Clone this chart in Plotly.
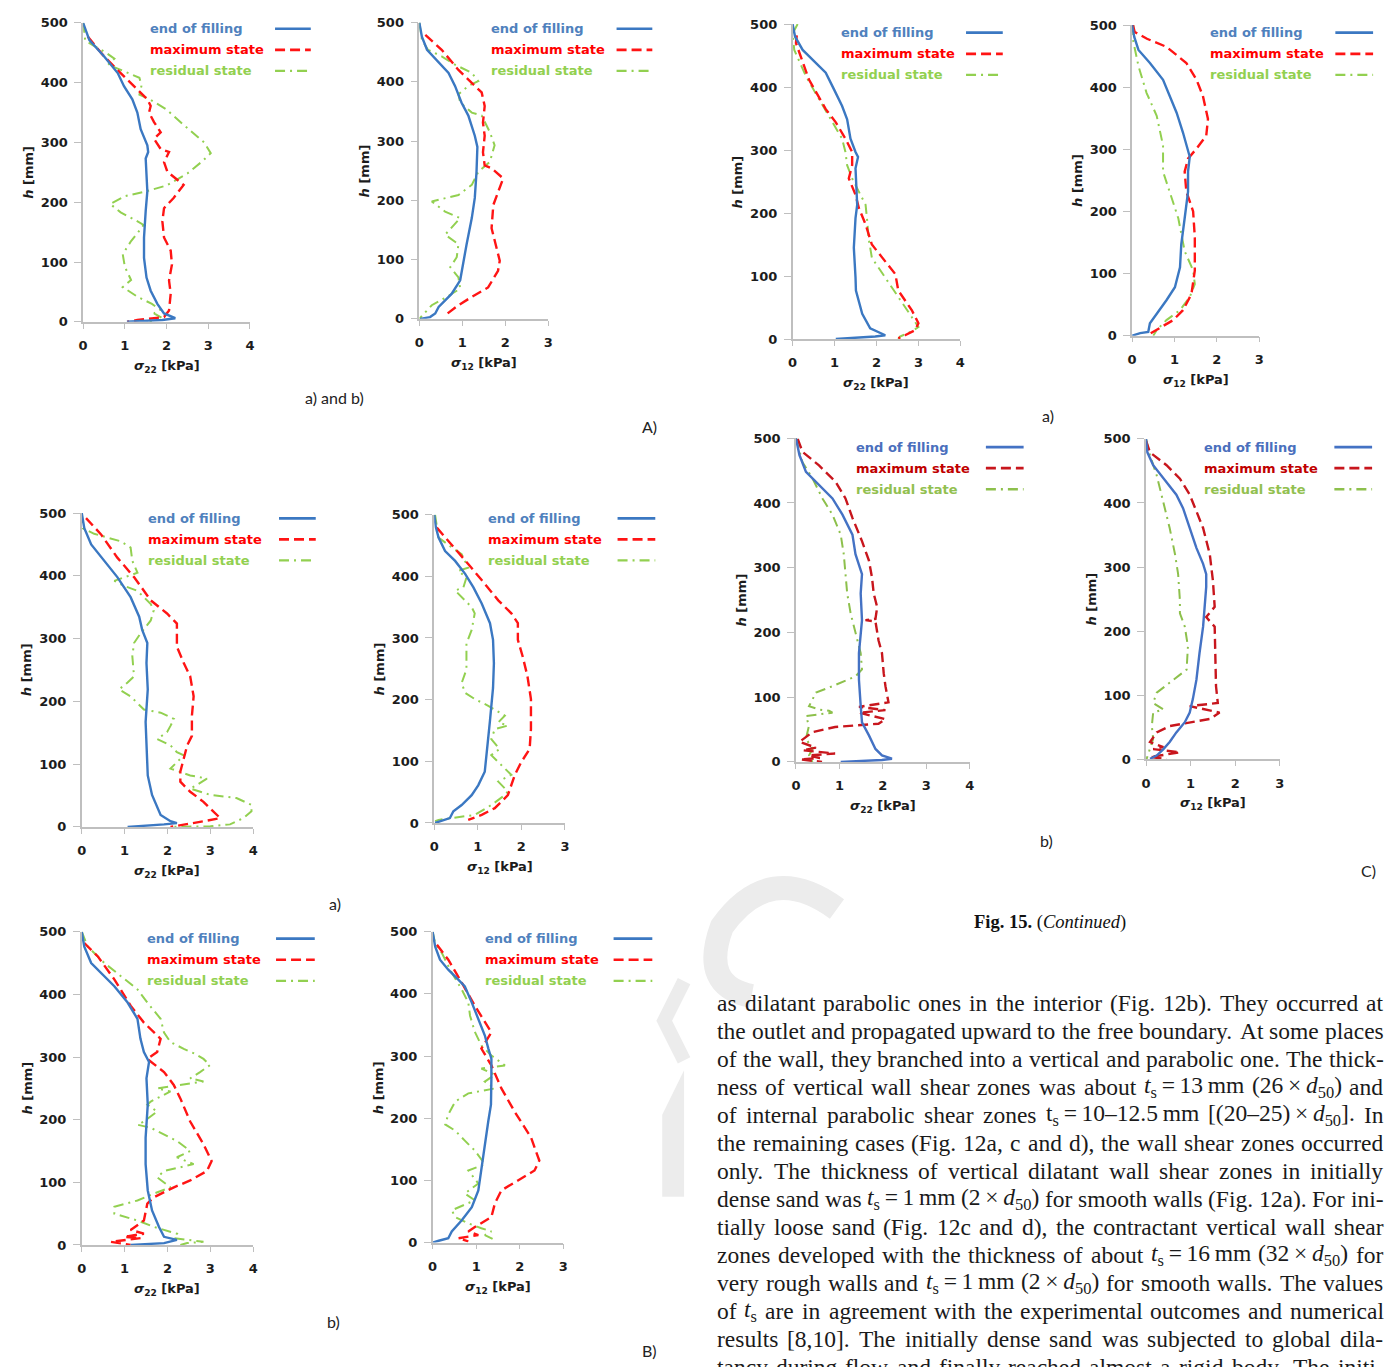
import re
import plotly.graph_objects as go

W, H = 1390, 1367

# ---------------- stress profiles: sigma [kPa] vs height h [mm] ----------------
# A) sigma22
A22_fill_h = [500, 471, 444, 416, 394, 372, 350, 322, 295, 284, 273, 251, 218, 185, 141, 107, 74, 52, 30, 14, 6, 3, 0]
A22_fill_s = [0, 0.15, 0.5, 0.83, 0.98, 1.18, 1.3, 1.38, 1.54, 1.56, 1.5, 1.52, 1.54, 1.5, 1.46, 1.46, 1.52, 1.62, 1.78, 1.94, 2.21, 1.9, 1.05]
A22_max_h = [477, 444, 416, 389, 372, 361, 350, 334, 317, 306, 289, 284, 267, 251, 229, 207, 190, 168, 141, 119, 96, 69, 47, 19, 8, 3, 0]
A22_max_s = [0.11, 0.5, 0.9, 1.3, 1.54, 1.62, 1.58, 1.7, 1.86, 1.7, 1.86, 2.06, 1.94, 2.02, 2.41, 2.17, 1.94, 1.9, 1.94, 2.1, 2.13, 2.06, 2.1, 2.06, 1.94, 1.3, 1.06]
A22_res_h = [500, 470, 462, 450, 440, 430, 420, 408, 395, 380, 372, 355, 330, 300, 282, 268, 248, 228, 218, 210, 197, 183, 172, 162, 148, 135, 113, 92, 70, 58, 42, 30, 20, 14, 6, 0]
A22_res_s = [0, 0.05, 0.25, 0.55, 0.75, 0.6, 0.95, 1.35, 1.4, 1.35, 1.6, 2.0, 2.4, 2.9, 3.06, 2.85, 2.5, 2.0, 1.5, 1.0, 0.65, 0.9, 1.2, 1.45, 1.3, 1.15, 0.95, 1.0, 1.15, 0.95, 1.3, 1.65, 1.85, 1.7, 1.9, 1.6]

# A) sigma12
A12_fill_h = [500, 476, 454, 432, 415, 393, 365, 343, 309, 290, 248, 204, 170, 126, 92, 65, 42, 20, 9, 3, 0]
A12_fill_s = [0, 0.06, 0.18, 0.45, 0.68, 0.83, 0.98, 1.14, 1.29, 1.35, 1.33, 1.29, 1.22, 1.1, 1.02, 0.95, 0.75, 0.45, 0.37, 0.25, 0.02]
A12_max_h = [479, 454, 420, 398, 382, 359, 331, 309, 281, 259, 254, 237, 215, 192, 153, 131, 98, 81, 53, 37, 23, 6]
A12_max_s = [0.14, 0.52, 0.91, 1.22, 1.45, 1.52, 1.48, 1.52, 1.48, 1.52, 1.68, 1.95, 1.83, 1.72, 1.68, 1.75, 1.87, 1.83, 1.6, 1.22, 0.91, 0.6]
A12_res_h = [500, 471, 454, 443, 430, 415, 401, 393, 379, 365, 348, 343, 315, 293, 265, 248, 226, 209, 198, 181, 170, 153, 142, 126, 104, 87, 70, 51, 37, 23, 9, 0]
A12_res_s = [0, 0.06, 0.2, 0.52, 0.8, 1.22, 1.37, 1.14, 0.91, 0.95, 1.22, 1.45, 1.64, 1.75, 1.64, 1.37, 1.22, 0.91, 0.29, 0.6, 0.95, 0.75, 0.6, 0.91, 0.87, 0.72, 0.91, 0.95, 0.64, 0.29, 0.1, 0]

# C) a) sigma22
Ca22_fill_h = [500, 480, 459, 438, 423, 396, 370, 349, 318, 297, 289, 271, 250, 213, 192, 145, 98, 77, 40, 17, 6, 4, 0]
Ca22_fill_s = [0, 0.06, 0.24, 0.55, 0.79, 0.99, 1.18, 1.3, 1.38, 1.5, 1.56, 1.5, 1.51, 1.54, 1.5, 1.46, 1.5, 1.51, 1.66, 1.85, 2.21, 1.97, 1.03]
Ca22_max_h = [482, 470, 412, 365, 344, 318, 297, 276, 255, 229, 208, 182, 150, 124, 103, 77, 46, 25, 14, 6, 1]
Ca22_max_s = [0.1, 0.08, 0.39, 0.79, 1.03, 1.26, 1.42, 1.42, 1.34, 1.5, 1.58, 1.74, 1.89, 2.21, 2.45, 2.52, 2.84, 3.0, 2.92, 2.68, 2.52]
Ca22_res_h = [500, 485, 459, 417, 381, 318, 297, 276, 255, 234, 213, 187, 161, 129, 98, 66, 35, 19, 12, 4, 0]
Ca22_res_s = [0.12, 0, 0.04, 0.32, 0.63, 1.18, 1.26, 1.3, 1.42, 1.58, 1.74, 1.78, 1.81, 1.89, 2.21, 2.52, 2.84, 3.0, 2.84, 2.56, 2.52]

# C) a) sigma12
Ca12_fill_h = [500, 481, 460, 439, 412, 386, 359, 327, 296, 288, 264, 232, 189, 147, 110, 78, 57, 36, 20, 6, 4, 0]
Ca12_fill_s = [0, 0.05, 0.15, 0.42, 0.73, 0.89, 1.05, 1.2, 1.32, 1.36, 1.32, 1.32, 1.24, 1.16, 1.13, 1.01, 0.81, 0.58, 0.42, 0.38, 0.19, 0]
Ca12_max_h = [500, 489, 478, 465, 439, 412, 386, 349, 322, 301, 285, 264, 232, 200, 158, 105, 67, 41, 25, 9, 0]
Ca12_max_s = [0.02, 0.06, 0.35, 0.81, 1.28, 1.52, 1.67, 1.79, 1.75, 1.52, 1.32, 1.24, 1.28, 1.44, 1.48, 1.48, 1.4, 1.2, 0.97, 0.58, 0.34]
Ca12_res_h = [500, 476, 434, 391, 354, 306, 264, 232, 189, 136, 105, 83, 62, 41, 25, 9, 0]
Ca12_res_s = [0.03, 0.02, 0.15, 0.34, 0.58, 0.73, 0.73, 0.89, 1.09, 1.24, 1.44, 1.48, 1.36, 1.13, 0.81, 0.58, 0.5]

# C) b) sigma22
Cb22_fill_h = [500, 474, 448, 428, 407, 382, 351, 321, 290, 260, 219, 168, 127, 87, 61, 41, 20, 10, 5, 3, 0]
Cb22_fill_s = [0, 0.08, 0.23, 0.53, 0.84, 1.07, 1.3, 1.37, 1.52, 1.49, 1.52, 1.45, 1.45, 1.49, 1.52, 1.68, 1.83, 1.98, 2.21, 1.98, 1.03]
Cb22_max_h = [499, 479, 458, 433, 407, 377, 341, 311, 285, 260, 239, 221, 219, 217, 188, 168, 137, 117, 92, 85, 80, 76, 66, 59, 54, 46, 31, 22, 18, 13, 10, 6, 4, 0]
Cb22_max_s = [0.04, 0.15, 0.53, 0.91, 1.14, 1.3, 1.52, 1.68, 1.75, 1.79, 1.87, 1.83, 1.6, 1.83, 1.9, 1.98, 2.02, 2.06, 2.13, 1.45, 2.06, 1.45, 2.06, 1.9, 0.9, 0.38, 0.08, 0.46, 0.15, 0.9, 0.3, 0.55, 0.1, 0.6]
Cb22_res_h = [500, 463, 438, 407, 382, 351, 321, 290, 260, 229, 199, 168, 143, 132, 117, 107, 86, 81, 79, 76, 71, 56, 36, 20, 10, 0]
Cb22_res_s = [0, 0.15, 0.38, 0.61, 0.84, 1.03, 1.1, 1.14, 1.18, 1.26, 1.37, 1.49, 1.52, 1.37, 0.84, 0.46, 0.3, 0.53, 0.76, 0.84, 0.23, 0.3, 0.23, 0.38, 0.3, 0.38]

# C) b) sigma12
Cb12_fill_h = [500, 479, 459, 433, 413, 392, 361, 330, 305, 289, 269, 238, 207, 166, 124, 94, 73, 58, 42, 27, 16, 6, 1]
Cb12_fill_s = [0, 0.03, 0.16, 0.46, 0.68, 0.83, 0.98, 1.13, 1.28, 1.35, 1.35, 1.31, 1.28, 1.2, 1.13, 1.05, 0.98, 0.87, 0.68, 0.53, 0.39, 0.24, 0.09]
Cb12_max_h = [497, 479, 459, 438, 413, 387, 361, 320, 279, 238, 222, 207, 166, 114, 88, 83, 73, 63, 52, 42, 27, 19, 16, 11, 6, 4, 0]
Cb12_max_s = [0, 0.09, 0.46, 0.76, 0.98, 1.13, 1.28, 1.43, 1.5, 1.54, 1.35, 1.54, 1.56, 1.57, 1.61, 0.98, 1.65, 1.43, 0.53, 0.24, 0.09, 0.39, 0.16, 0.76, 0.31, 0.09, 0.46]
Cb12_res_h = [500, 474, 443, 402, 361, 320, 289, 248, 228, 207, 176, 140, 119, 104, 88, 78, 73, 52, 32, 16, 0]
Cb12_res_s = [0, 0.09, 0.24, 0.39, 0.53, 0.65, 0.72, 0.76, 0.76, 0.87, 0.94, 0.91, 0.53, 0.24, 0.16, 0.39, 0.16, 0.13, 0.16, 0.09, 0.01]

# B) a) sigma22
Ba22_fill_h = [500, 476, 450, 424, 398, 366, 335, 314, 293, 261, 219, 167, 124, 82, 51, 19, 9, 6, 4, 0]
Ba22_fill_s = [0, 0.06, 0.22, 0.53, 0.83, 1.14, 1.34, 1.41, 1.53, 1.51, 1.54, 1.49, 1.51, 1.54, 1.64, 1.84, 2.07, 2.22, 1.92, 1.07]
Ba22_max_h = [492, 466, 429, 398, 361, 340, 324, 303, 287, 261, 240, 208, 177, 145, 130, 109, 88, 72, 56, 40, 25, 14, 9, 4, 0]
Ba22_max_s = [0.1, 0.45, 0.83, 1.22, 1.61, 1.99, 2.22, 2.22, 2.22, 2.38, 2.53, 2.61, 2.57, 2.57, 2.46, 2.38, 2.3, 2.3, 2.53, 2.84, 3.07, 3.23, 2.84, 2.46, 2.07]
Ba22_res_h = [500, 476, 467, 455, 445, 424, 405, 392, 384, 376, 366, 355, 345, 329, 308, 293, 272, 240, 230, 219, 208, 198, 187, 182, 172, 161, 151, 140, 130, 119, 114, 103, 93, 82, 77, 67, 61, 51, 46, 35, 25, 14, 4, 1, 0]
Ba22_res_s = [0, 0.02, 0.29, 0.91, 1.14, 1.18, 1.3, 0.76, 0.99, 1.3, 1.45, 1.61, 1.68, 1.61, 1.37, 1.22, 1.18, 1.22, 1.07, 0.87, 1.14, 1.3, 1.45, 1.84, 2.15, 2.07, 1.99, 1.76, 2.07, 2.22, 2.38, 2.22, 2.07, 2.53, 2.92, 2.69, 2.53, 3.0, 3.61, 3.96, 3.96, 3.77, 3.46, 3.0, 2.07]

# B) a) sigma12
Ba12_fill_h = [500, 479, 463, 441, 425, 404, 382, 356, 324, 297, 259, 219, 166, 123, 83, 61, 45, 29, 19, 8, 3, 0]
Ba12_fill_s = [0, 0.04, 0.1, 0.25, 0.48, 0.71, 0.9, 1.09, 1.28, 1.35, 1.37, 1.35, 1.28, 1.22, 1.16, 1.01, 0.86, 0.63, 0.44, 0.36, 0.17, 0.02]
Ba12_max_h = [479, 452, 420, 388, 361, 340, 324, 297, 270, 238, 201, 152, 120, 99, 78, 45, 24, 13, 5]
Ba12_max_s = [0.06, 0.4, 0.78, 1.16, 1.47, 1.77, 1.92, 1.92, 2.03, 2.14, 2.22, 2.22, 2.19, 2.0, 1.85, 1.69, 1.39, 1.09, 0.78]
Ba12_res_h = [500, 463, 447, 436, 414, 409, 398, 382, 377, 366, 350, 340, 313, 291, 249, 227, 211, 201, 190, 174, 163, 158, 152, 136, 120, 110, 94, 78, 67, 51, 45, 29, 13, 8, 5, 3]
Ba12_res_s = [0.02, 0.1, 0.4, 0.63, 0.78, 0.55, 0.74, 0.67, 0.48, 0.63, 0.86, 0.93, 0.86, 0.74, 0.74, 0.63, 0.71, 0.93, 1.24, 1.62, 1.47, 1.69, 1.39, 1.31, 1.5, 1.31, 1.54, 1.77, 1.47, 1.69, 1.62, 1.31, 0.93, 0.33, 0.1, 0.02]

# B) b) sigma22
Bb22_fill_h = [500, 476, 450, 429, 413, 387, 361, 329, 308, 292, 266, 224, 171, 129, 87, 55, 29, 13, 8, 3, 0]
Bb22_fill_s = [0, 0.06, 0.22, 0.53, 0.76, 1.07, 1.3, 1.37, 1.45, 1.57, 1.51, 1.54, 1.49, 1.49, 1.54, 1.64, 1.8, 1.92, 2.22, 1.92, 1.14]
Bb22_max_h = [482, 461, 424, 382, 355, 329, 308, 297, 276, 255, 234, 197, 161, 134, 118, 103, 92, 76, 66, 39, 24, 18, 13, 11, 5, 3, 0]
Bb22_max_s = [0.06, 0.37, 0.76, 1.14, 1.45, 1.84, 1.76, 1.53, 1.92, 2.15, 2.3, 2.53, 2.84, 3.03, 2.92, 2.53, 2.15, 1.68, 1.53, 1.45, 1.14, 1.45, 0.99, 1.38, 0.68, 0.91, 1.14]
Bb22_res_h = [500, 476, 450, 429, 408, 387, 361, 339, 324, 313, 305, 297, 287, 276, 266, 261, 255, 250, 245, 229, 224, 213, 197, 192, 187, 176, 166, 150, 140, 129, 118, 108, 92, 82, 71, 61, 50, 39, 29, 18, 11, 5, 3, 0]
Bb22_res_s = [0, 0.14, 0.53, 0.91, 1.3, 1.53, 1.84, 1.92, 2.07, 2.38, 2.65, 2.84, 2.99, 2.76, 2.53, 2.84, 2.22, 1.76, 2.07, 1.61, 1.53, 1.76, 1.45, 1.3, 1.61, 1.92, 2.22, 2.53, 2.22, 2.61, 1.92, 1.76, 2.07, 1.68, 1.3, 0.76, 0.76, 1.3, 1.68, 2.22, 2.15, 2.84, 2.46, 2.3]

# B) b) sigma12
Bb12_fill_h = [500, 476, 455, 439, 423, 412, 386, 360, 333, 312, 296, 264, 222, 196, 159, 116, 84, 57, 36, 18, 7, 3, 0]
Bb12_fill_s = [0, 0.06, 0.17, 0.36, 0.59, 0.74, 0.9, 1.05, 1.2, 1.28, 1.35, 1.35, 1.34, 1.28, 1.2, 1.12, 1.05, 0.9, 0.67, 0.44, 0.36, 0.14, 0]
Bb12_max_h = [479, 455, 418, 381, 338, 312, 285, 248, 211, 169, 132, 116, 100, 84, 63, 41, 25, 18, 12, 7, 2]
Bb12_max_s = [0.1, 0.36, 0.67, 0.97, 1.35, 1.12, 1.35, 1.58, 1.88, 2.26, 2.45, 2.34, 1.96, 1.58, 1.43, 1.35, 0.97, 0.82, 1.05, 0.59, 0.82]
Bb12_res_h = [500, 481, 466, 434, 407, 386, 365, 339, 317, 301, 285, 280, 270, 259, 248, 240, 227, 206, 190, 180, 164, 148, 126, 116, 95, 79, 68, 52, 41, 31, 23, 18, 12, 4]
Bb12_res_s = [0, 0.06, 0.21, 0.44, 0.67, 0.82, 0.86, 0.97, 1.12, 1.35, 1.66, 1.12, 1.43, 1.2, 1.43, 0.82, 0.52, 0.36, 0.29, 0.52, 0.74, 0.97, 1.2, 0.82, 1.05, 0.74, 0.97, 0.44, 0.52, 0.82, 1.12, 1.35, 1.2, 1.43]

SERIES_NAMES = ["end of filling", "maximum state", "residual state"]
H_TICKS = [0, 100, 200, 300, 400, 500]

# ---------------- styling ----------------
PALETTE_STD = dict(line=["#3b78c2", "#ff1414", "#92d050"], text=["#4f81bd", "#ff0000", "#92d050"])
PALETTE_DARK = dict(line=["#4472c4", "#c8161d", "#8dc04c"], text=["#4a6fbd", "#c00000", "#92c050"])
DASHES = ["solid", "10px,5px", "10px,5px,2px,5px"]
WIDTHS = [2.4, 2.4, 2.0]

TICK_FONT = dict(family="DejaVu Sans", size=13, color="#1c1c1c", weight="bold")
AXIS_GREY = "#bfbfbf"

# panel frames in pixels: (x_left, x_right, y_top, y_bottom), plus legend anchor
panels = [
    dict(data=[(A22_fill_s, A22_fill_h), (A22_max_s, A22_max_h), (A22_res_s, A22_res_h)],
         xmax=4, sub="22", box=(78.7, 246.7, 16.0, 318.3), leg=(146, 22, 272, 308), pal=PALETTE_STD),
    dict(data=[(A12_fill_s, A12_fill_h), (A12_max_s, A12_max_h), (A12_res_s, A12_res_h)],
         xmax=3, sub="12", box=(417.3, 547.3, 15.7, 315.3), leg=(490, 22, 616, 652), pal=PALETTE_STD),
    dict(data=[(Ca22_fill_s, Ca22_fill_h), (Ca22_max_s, Ca22_max_h), (Ca22_res_s, Ca22_res_h)],
         xmax=4, sub="22", box=(793.3, 962.3, 17.3, 335.7), leg=(842, 26, 968, 1005), pal=PALETTE_STD),
    dict(data=[(Ca12_fill_s, Ca12_fill_h), (Ca12_max_s, Ca12_max_h), (Ca12_res_s, Ca12_res_h)],
         xmax=3, sub="12", box=(1135.3, 1263.3, 18.3, 332.3), leg=(1214, 26, 1340, 1378), pal=PALETTE_STD),
    dict(data=[(Cb22_fill_s, Cb22_fill_h), (Cb22_max_s, Cb22_max_h), (Cb22_res_s, Cb22_res_h)],
         xmax=4, sub="22", box=(796.7, 971.7, 436.0, 763.3), leg=(857, 445, 988, 1026), pal=PALETTE_DARK),
    dict(data=[(Cb12_fill_s, Cb12_fill_h), (Cb12_max_s, Cb12_max_h), (Cb12_res_s, Cb12_res_h)],
         xmax=3, sub="12", box=(1149.3, 1284.0, 436.7, 760.7), leg=(1208, 445, 1339, 1377), pal=PALETTE_DARK),
    dict(data=[(Ba22_fill_s, Ba22_fill_h), (Ba22_max_s, Ba22_max_h), (Ba22_res_s, Ba22_res_h)],
         xmax=4, sub="22", box=(77.3, 250.0, 511.7, 829.0), leg=(144, 517, 276, 313), pal=PALETTE_STD),
    dict(data=[(Ba12_fill_s, Ba12_fill_h), (Ba12_max_s, Ba12_max_h), (Ba12_res_s, Ba12_res_h)],
         xmax=3, sub="12", box=(432.3, 564.0, 513.3, 825.0), leg=(487, 517, 617, 655), pal=PALETTE_STD),
    dict(data=[(Bb22_fill_s, Bb22_fill_h), (Bb22_max_s, Bb22_max_h), (Bb22_res_s, Bb22_res_h)],
         xmax=4, sub="22", box=(77.3, 250.0, 935.0, 1251.7), leg=(143, 942, 273, 312), pal=PALETTE_STD),
    dict(data=[(Bb12_fill_s, Bb12_fill_h), (Bb12_max_s, Bb12_max_h), (Bb12_res_s, Bb12_res_h)],
         xmax=3, sub="12", box=(430.7, 562.3, 935.0, 1249.3), leg=(483, 942, 613, 652), pal=PALETTE_STD),
]


def px(x):
    return x / W


def py(y):
    return 1 - y / H


fig = go.Figure()
layout = dict(
    width=W, height=H, margin=dict(l=0, r=0, t=0, b=0),
    paper_bgcolor="white", plot_bgcolor="white", showlegend=False,
)
annotations = []
shapes = []

# faint proof watermark fragments, kept underneath everything else
WM = "#ececec"
shapes.append(dict(type="path", xref="paper", yref="paper", layer="below",
                   path="M {} {} Q {} {} {} {} Q {} {} {} {}".format(
                       px(838), py(912), px(770), py(862), px(722), py(930),
                       px(700), py(990), px(752), py(1000)),
                   line=dict(color=WM, width=24)))
shapes.append(dict(type="path", xref="paper", yref="paper", layer="below",
                   path="M {} {} L {} {} L {} {}".format(px(684), py(985), px(664), py(1025), px(684), py(1065)),
                   line=dict(color=WM, width=14)))
shapes.append(dict(type="path", xref="paper", yref="paper", layer="below",
                   path="M {} {} L {} {} L {} {} L {} {} Z".format(
                       px(662), py(1120), px(684), py(1075), px(684), py(1203), px(662), py(1203)),
                   fillcolor=WM, line=dict(width=0)))

for i, p in enumerate(panels, start=1):
    sfx = "" if i == 1 else str(i)
    x0, x1, y0, y1 = p["box"]
    layout["xaxis" + sfx] = dict(
        domain=[px(x0), px(x1)], range=[0, p["xmax"]], anchor="y" + str(i),
        tickmode="array", tickvals=list(range(p["xmax"] + 1)),
        showgrid=False, zeroline=False, showline=True, linecolor=AXIS_GREY, linewidth=1.5,
        ticks="outside", ticklen=5, tickcolor=AXIS_GREY, tickwidth=1.2,
        tickfont=TICK_FONT, ticklabelstandoff=6, fixedrange=True,
    )
    layout["yaxis" + sfx] = dict(
        domain=[py(y1), py(y0)], range=[0, 500], anchor="x" + str(i),
        tickmode="array", tickvals=H_TICKS,
        showgrid=False, zeroline=False, showline=True, linecolor=AXIS_GREY, linewidth=1.5,
        ticks="outside", ticklen=7, tickcolor=AXIS_GREY, tickwidth=1.2,
        tickfont=TICK_FONT, ticklabelstandoff=4, fixedrange=True,
    )
    # curves: residual first so that the filling curve sits on top
    for k in (2, 1, 0):
        s, h = p["data"][k]
        fig.add_trace(go.Scatter(
            x=s, y=h, mode="lines", name=SERIES_NAMES[k],
            line=dict(color=p["pal"]["line"][k], width=WIDTHS[k], dash=DASHES[k]),
            xaxis="x" + str(i), yaxis="y" + str(i), hoverinfo="skip",
        ))
    # axis titles
    annotations.append(dict(
        x=px((x0 + x1) / 2), y=py(y1 + 45), xref="paper", yref="paper",
        text="<b><i>σ</i><sub>" + p["sub"] + "</sub> [kPa]</b>", showarrow=False,
        xanchor="center", yanchor="middle",
        font=dict(family="DejaVu Sans", size=13, color="#1c1c1c")))
    annotations.append(dict(
        x=px(x0 - 55), y=py((y0 + y1) / 2), xref="paper", yref="paper",
        text="<b><i>h</i> [mm]</b>", showarrow=False, textangle=-90,
        xanchor="center", yanchor="middle",
        font=dict(family="DejaVu Sans", size=13, color="#1c1c1c")))
    # legend block: label on the left, line sample on the right
    tx, ty, lx0, lx1 = p["leg"]
    for k in range(3):
        yy = ty + k * 21.3
        annotations.append(dict(
            x=px(tx), y=py(yy), xref="paper", yref="paper", text="<b>" + SERIES_NAMES[k] + "</b>",
            showarrow=False, xanchor="left", yanchor="middle", borderpad=0, borderwidth=0,
            font=dict(family="DejaVu Sans", size=13, color=p["pal"]["text"][k])))
        shapes.append(dict(
            type="line", xref="paper", yref="paper", x0=px(lx0), x1=px(lx1), y0=py(yy), y1=py(yy),
            line=dict(color=p["pal"]["line"][k], width=WIDTHS[k] + 0.3, dash=DASHES[k])))

# sub-figure labels
LABEL_FONT = dict(family="Lato", size=16, color="#222222")
for txt, x, y in [("a) and b)", 300, 395), ("A)", 640, 424), ("a)", 1042, 413), ("b)", 1040, 843),
                  ("C)", 1364, 873), ("a)", 324, 906), ("b)", 322, 1329), ("B)", 640, 1358)]:
    annotations.append(dict(x=px(x), y=py(y), xref="paper", yref="paper", text=txt, showarrow=False,
                            xanchor="left", yanchor="middle", font=LABEL_FONT))

# caption
annotations.append(dict(x=px(1053), y=py(926), xref="paper", yref="paper",
                        text="<b>Fig. 15.</b> (<i>Continued</i>)", showarrow=False,
                        xanchor="center", yanchor="middle",
                        font=dict(family="Liberation Serif", size=18.5, color="#111111")))

# ---------------- running text, set justified word by word ----------------
TS = "<i>t</i><sub>s</sub>"
D50 = "<i>d</i><sub>50</sub>"
TH = "\u2009"
body_lines = [
    "as dilatant parabolic ones in the interior (Fig. 12b). They occurred at",
    "the outlet and propagated upward to the free boundary. At some places",
    "of the wall, they branched into a vertical and parabolic one. The thick-",
    "ness of vertical wall shear zones was about " + TS + TH + "=" + TH + "13" + TH + "mm (26" + TH + "×" + TH + D50 + ") and",
    "of internal parabolic shear zones t<sub>s</sub>" + TH + "=" + TH + "10–12.5" + TH + "mm [(20–25)" + TH + "×" + TH + D50 + "]. In",
    "the remaining cases (Fig. 12a, c and d), the wall shear zones occurred",
    "only. The thickness of vertical dilatant wall shear zones in initially",
    "dense sand was " + TS + TH + "=" + TH + "1" + TH + "mm (2" + TH + "×" + TH + D50 + ") for smooth walls (Fig. 12a). For ini-",
    "tially loose sand (Fig. 12c and d), the contractant vertical wall shear",
    "zones developed with the thickness of about " + TS + TH + "=" + TH + "16" + TH + "mm (32" + TH + "×" + TH + D50 + ") for",
    "very rough walls and " + TS + TH + "=" + TH + "1" + TH + "mm (2" + TH + "×" + TH + D50 + ") for smooth walls. The values",
    "of " + TS + " are in agreement with the experimental outcomes and numerical",
    "results [8,10]. The initially dense sand was subjected to global dila-",
    "tancy during flow and finally reached almost a rigid body. The initi-",
]

# advance widths of the serif face, in thousandths of an em
SERIF_W = {" ": 250, "a": 444, "b": 500, "c": 444, "d": 500, "e": 444, "f": 333, "g": 500, "h": 500,
           "i": 278, "j": 278, "k": 500, "l": 278, "m": 778, "n": 500, "o": 500, "p": 500, "q": 500,
           "r": 333, "s": 389, "t": 278, "u": 500, "v": 500, "w": 722, "x": 500, "y": 500, "z": 444,
           "A": 722, "B": 667, "C": 667, "D": 722, "E": 611, "F": 556, "G": 722, "H": 722, "I": 333,
           "J": 389, "K": 722, "L": 611, "M": 889, "N": 722, "O": 722, "P": 556, "Q": 722, "R": 667,
           "S": 556, "T": 611, "U": 722, "V": 722, "W": 944, "X": 722, "Y": 722, "Z": 611,
           ".": 250, ",": 250, "(": 333, ")": 333, "[": 333, "]": 333, "-": 333, "–": 500,
           "×": 564, "=": 564, TH: 200, ":": 278, ";": 278}
for dgt in "0123456789":
    SERIF_W[dgt] = 500

BODY_SIZE = 23.5
BODY_LEFT, BODY_RIGHT = 717.0, 1388.0


def word_width(word, size):
    total, scale = 0.0, 1.0
    for tok in re.split(r"(<[^>]+>)", word):
        if tok.startswith("<"):
            if tok == "<sub>":
                scale = 0.7
            elif tok == "</sub>":
                scale = 1.0
            continue
        for ch in tok:
            total += SERIF_W.get(ch, 500) * scale
    return total / 1000.0 * size


for n, line in enumerate(body_lines):
    words = line.split(" ")
    widths = [word_width(w, BODY_SIZE) for w in words]
    gap = (BODY_RIGHT - BODY_LEFT - sum(widths)) / max(len(words) - 1, 1)
    gap = max(gap, 0.2 * BODY_SIZE)
    xpos = BODY_LEFT
    ycen = 1007.5 + 28.3 * n
    for w, wd in zip(words, widths):
        annotations.append(dict(x=px(xpos), y=py(ycen), xref="paper", yref="paper",
                                text=w, showarrow=False, xanchor="left", yanchor="middle",
                                borderpad=0, borderwidth=0,
                                font=dict(family="Liberation Serif", size=BODY_SIZE, color="#1a1a1a")))
        xpos += wd + gap

layout["annotations"] = annotations
layout["shapes"] = shapes
fig.update_layout(**layout)
fig.write_html("out.html")
